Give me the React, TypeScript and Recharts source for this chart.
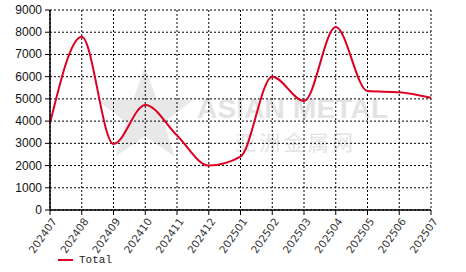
import React from "react";
import { LineChart, Line, XAxis, YAxis, CartesianGrid } from "recharts";

const months = ["202407","202408","202409","202410","202411","202412","202501","202502","202503","202504","202505","202506","202507"];
const totals = [3900, 7800, 2970, 4730, 3350, 2000, 2400, 6000, 4900, 8230, 5350, 5300, 5050];
const yTicks = [0, 1000, 2000, 3000, 4000, 5000, 6000, 7000, 8000, 9000];
const seriesName = "Total";

const data = months.map((m, i) => ({ month: m, total: totals[i] }));

const XTick = (props: any) => {
  const { x, y, payload } = props;
  return (
    <g transform={`translate(${x + 4},${y + 2})`}>
      <text
        transform="rotate(-55)"
        textAnchor="end"
        dominantBaseline="central"
        fontFamily="'DejaVu Sans', Verdana, sans-serif"
        fontSize={10.5}
        fill="#333"
      >
        {payload.value}
      </text>
    </g>
  );
};

const YTick = (props: any) => {
  const { x, y, payload } = props;
  return (
    <text
      x={x - 1}
      y={y}
      textAnchor="end"
      dominantBaseline="central"
      fontFamily="'Liberation Sans', Arial, sans-serif"
      fontSize={12}
      fill="#111"
    >
      {payload.value}
    </text>
  );
};

const starPoints = (cx: number, cy: number, ro: number, ri: number) => {
  const pts: string[] = [];
  for (let i = 0; i < 10; i++) {
    const r = i % 2 === 0 ? ro : ri;
    const a = -Math.PI / 2 + (i * Math.PI) / 5;
    pts.push(`${cx + r * Math.cos(a)},${cy + r * Math.sin(a)}`);
  }
  return pts.join(" ");
};

export default function App() {
  return (
    <div style={{ position: "absolute", left: 0, top: 0, width: 466, height: 272, background: "#fff" }}>
      <svg width={466} height={272} style={{ position: "absolute", left: 0, top: 0 }}>
        <polygon points={starPoints(145, 116, 50, 20)} fill="#e8e8e8" />
        <text x={197} y={118} fontFamily="'Liberation Sans', Arial, sans-serif" fontWeight="bold" fontSize={28} fill="#e3e3e3" textLength={191}>ASIAN METAL</text>
        <text x={235} y={150} fontFamily="'Noto Sans CJK SC', sans-serif" fontSize={21} fill="#e3e3e3" textLength={118}>亚洲金属网</text>
      </svg>
      <LineChart
        width={466}
        height={272}
        data={data}
        margin={{ top: 10, right: 35, left: 0, bottom: 0 }}
        style={{ position: "absolute", left: 0, top: 0 }}
      >
        <CartesianGrid stroke="#000" strokeDasharray="2 2" strokeWidth={1} />
        <XAxis
          dataKey="month"
          interval={0}
          height={62}
          tick={<XTick />}
          tickLine={{ stroke: "#000" }}
          tickSize={5}
          axisLine={{ stroke: "#000", strokeWidth: 1.5 }}
        />
        <YAxis
          domain={[0, 9000]}
          ticks={yTicks}
          interval={0}
          width={50}
          tick={<YTick />}
          tickLine={{ stroke: "#000" }}
          tickSize={5}
          axisLine={{ stroke: "#000", strokeWidth: 1.5 }}
        />
        <Line
          type="monotone"
          dataKey="total"
          name={seriesName}
          stroke="#dd0022"
          strokeWidth={2}
          dot={false}
          isAnimationActive={false}
        />
      </LineChart>
      <div
        style={{
          position: "absolute",
          left: 58,
          top: 254,
          display: "flex",
          alignItems: "center",
          fontFamily: "'Liberation Mono', 'DejaVu Sans Mono', monospace",
          fontSize: 11,
          color: "#222",
        }}
      >
        <span style={{ display: "inline-block", width: 15, height: 2, background: "#dd0022", marginRight: 6 }} />
        {seriesName}
      </div>
    </div>
  );
}
